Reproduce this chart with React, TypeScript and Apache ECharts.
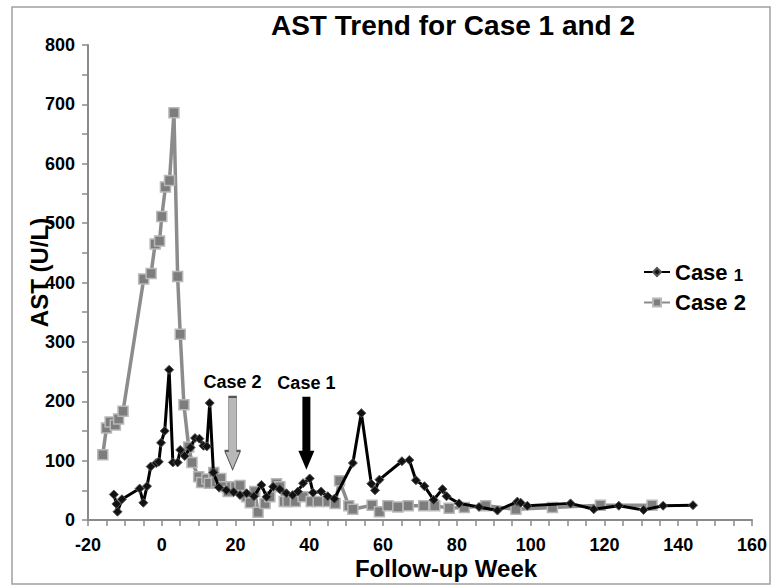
import React, { useEffect, useRef } from "react";
import * as echarts from "echarts";

const titleText = "AST Trend for Case 1 and 2";
const xAxisTitle = "Follow-up Week";
const yAxisTitle = "AST (U/L)";
const seriesNames = ["Case 1", "Case 2"];

const case1Weeks = [-13, -12.3, -12, -10.8, -6, -5, -4, -3, -1.5, -0.8, -0.2, 0.8, 2, 3, 4.3, 5, 6.2, 7.8, 9, 10.2, 11.3, 12.2, 13, 14, 15.5, 17.5, 19.5, 21.2, 23, 25, 27, 28.4, 30.2, 32, 33.8, 35.5, 36.9, 38.3, 40.1, 41, 43.2, 45, 46.8, 51.8, 54.1, 56.8, 57.8, 59, 65.1, 67.1, 68.9, 71.2, 73.7, 76.1, 77.2, 80.6, 86, 91, 96.4, 97.3, 99.1, 110.8, 117.1, 123.9, 130.6, 135.9, 144];
const case1Values = [43, 27, 14, 35, 53, 29, 57, 90, 96, 98, 130, 150, 253, 97, 97, 118, 108, 122, 138, 137, 125, 124, 197, 80, 55, 50, 47, 42, 45, 40, 59, 39, 56, 52, 45, 42, 48, 62, 70, 46, 48, 40, 36, 96, 180, 61, 50, 68, 99, 101, 67, 57, 34, 52, 40, 28, 22, 16, 31, 29, 24, 28, 18, 24, 17, 24, 25];

const case2Weeks = [-16, -15, -14, -12.6, -11.7, -10.5, -4.9, -2.9, -1.8, -0.6, 0, 1, 2.1, 3.3, 4.3, 5, 6, 7.3, 8.2, 10, 10.8, 12.2, 12.9, 14.1, 14.8, 16, 16.8, 18, 18.9, 20, 21.2, 23, 24, 25.2, 26.1, 28, 29.3, 31.1, 32, 33.2, 34.2, 36.2, 38.3, 40.5, 42.4, 45, 47, 48.2, 50.7, 51.8, 57, 59, 61.3, 64, 66.8, 71, 74, 77.9, 82, 87.8, 96, 105.9, 118.9, 132.9];
const case2Values = [110, 155, 165, 160, 170, 183, 406, 415, 465, 470, 511, 561, 572, 686, 410, 313, 194, 123, 97, 73, 63, 69, 62, 80, 64, 70, 56, 48, 56, 56, 58, 39, 29, 48, 13, 28, 39, 61, 56, 31, 31, 31, 39, 31, 31, 31, 28, 66, 24, 18, 25, 14, 24, 22, 24, 24, 24, 20, 21, 24, 18, 21, 25, 25];

const arrowLabels = ["Case 1", "Case 2"];
const arrowWeeks = [39.2, 19.2];
const arrowMidValues = [146, 146];

const FONT = "'Liberation Sans', Arial, Helvetica, sans-serif";
const ARROW = "path://M4,0 L12,0 L12,54 L16,54 L8,73 L0,54 L4,54 Z";

function pairs(xs: number[], ys: number[]) {
  return xs.map((x, i) => [x, ys[i]]);
}

export default function App() {
  const ref = useRef<HTMLDivElement>(null);
  useEffect(() => {
    document.body.style.margin = "0";
    const chart = echarts.init(ref.current!, null, { renderer: "svg" });
    const arrowLabel = {
      show: true,
      position: "top",
      distance: 5,
      fontSize: 18,
      fontWeight: "bold",
      color: "#000",
      fontFamily: FONT,
    };
    chart.setOption({
      animation: false,
      backgroundColor: "#fff",
      title: {
        text: titleText,
        left: 448,
        top: 6,
        textAlign: "center",
        textStyle: { fontSize: 28, fontWeight: "bold", color: "#000", fontFamily: FONT },
      },
      graphic: [
        {
          type: "rect",
          silent: true,
          z: -1,
          shape: { x: 12, y: 7, width: 758, height: 577 },
          style: { fill: "none", stroke: "#a0a0a0", lineWidth: 1.5 },
        },
      ],
      legend: {
        orient: "vertical",
        left: 638,
        top: 256,
        itemWidth: 26,
        itemHeight: 10,
        itemGap: 8,
        data: seriesNames,
        formatter: (name: string) =>
          name === "Case 1" ? "{a|Case }{b|1}" : "{a|" + name + "}",
        textStyle: {
          fontFamily: FONT,
          rich: {
            a: { fontSize: 22, fontWeight: "bold", color: "#000", fontFamily: FONT, lineHeight: 24 },
            b: { fontSize: 17, fontWeight: "bold", color: "#000", fontFamily: FONT, padding: [6, 0, 0, 0] },
          },
        },
      },
      grid: { left: 88, right: 21, top: 45, bottom: 68, containLabel: false },
      xAxis: {
        type: "value",
        min: -20,
        max: 160,
        interval: 20,
        name: xAxisTitle,
        nameLocation: "middle",
        nameGap: 36,
        nameMoveOverlap: false,
        nameTextStyle: { fontSize: 24, fontWeight: "bold", color: "#000", fontFamily: FONT, padding: [0, 0, 0, 52] },
        axisLine: { show: true, onZero: false, lineStyle: { color: "#8a8a8a", width: 2 } },
        axisTick: { show: true, length: 6, lineStyle: { color: "#8a8a8a", width: 1.5 } },
        minorTick: { show: true, splitNumber: 4, length: 6, lineStyle: { color: "#8a8a8a", width: 1.5 } },
        axisLabel: { fontSize: 18, fontWeight: "bold", color: "#000", fontFamily: FONT, margin: 16 },
        splitLine: { show: false },
      },
      yAxis: {
        type: "value",
        min: 0,
        max: 800,
        interval: 100,
        name: yAxisTitle,
        nameLocation: "middle",
        nameGap: 37,
        nameMoveOverlap: false,
        nameRotate: 90,
        nameTextStyle: { fontSize: 24, fontWeight: "bold", color: "#000", fontFamily: FONT, padding: [0, 0, 0, 20] },
        axisLine: { show: true, onZero: false, lineStyle: { color: "#8a8a8a", width: 2 } },
        axisTick: { show: true, length: 6, lineStyle: { color: "#8a8a8a", width: 1.5 } },
        minorTick: { show: true, splitNumber: 2, length: 6, lineStyle: { color: "#8a8a8a", width: 1.5 } },
        axisLabel: { fontSize: 18, fontWeight: "bold", color: "#000", fontFamily: FONT, margin: 13 },
        splitLine: { show: false },
      },
      series: [
        {
          name: seriesNames[1],
          type: "line",
          data: pairs(case2Weeks, case2Values),
          symbol: "rect",
          symbolSize: 10,
          z: 2,
          lineStyle: { color: "#8c8c8c", width: 3.5 },
          itemStyle: { color: "#7d7d7d", borderColor: "#b8b8b8", borderWidth: 1.5 },
          markPoint: {
            silent: true,
            data: [
              {
                coord: [arrowWeeks[1], arrowMidValues[1]],
                symbol: ARROW,
                symbolSize: [16, 73],
                itemStyle: { color: "#b8b8b8", borderColor: "#555", borderWidth: 1 },
                label: { ...arrowLabel, formatter: arrowLabels[1] },
              },
            ],
          },
        },
        {
          name: seriesNames[0],
          type: "line",
          data: pairs(case1Weeks, case1Values),
          symbol: "diamond",
          symbolSize: 9,
          z: 3,
          lineStyle: { color: "#000", width: 3 },
          itemStyle: { color: "#111", borderColor: "#555", borderWidth: 1 },
          markPoint: {
            silent: true,
            data: [
              {
                coord: [arrowWeeks[0], arrowMidValues[0]],
                symbol: ARROW,
                symbolSize: [16, 73],
                itemStyle: { color: "#000", borderColor: "#000", borderWidth: 0 },
                label: { ...arrowLabel, formatter: arrowLabels[0] },
              },
            ],
          },
        },
      ],
    });
    return () => chart.dispose();
  }, []);
  return <div ref={ref} style={{ width: 773, height: 588 }} />;
}
